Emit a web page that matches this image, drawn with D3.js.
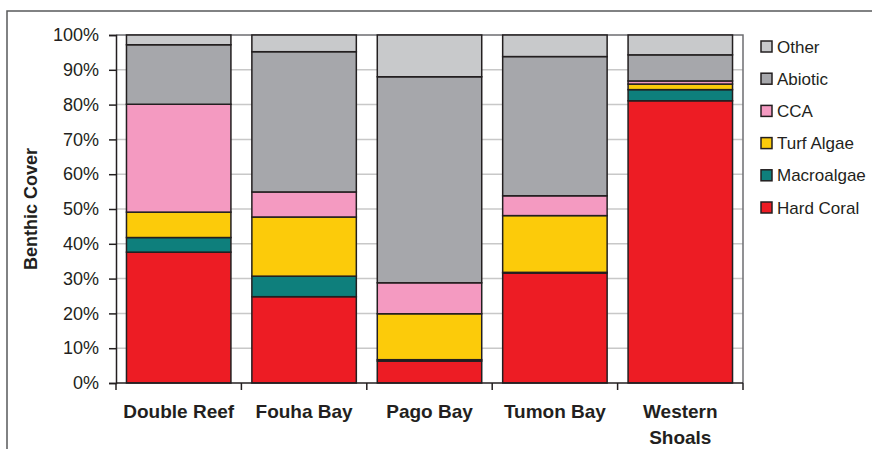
<!DOCTYPE html>
<html lang="en">
<head>
<meta charset="utf-8">
<title>Benthic Cover</title>
<script src="https://cdn.jsdelivr.net/npm/d3@7"></script>
<style>
  body { margin: 0; background: #fff; }
  text { font-family: Arial, "Liberation Sans", sans-serif; fill: #231f20; }
</style>
</head>
<body>
<script>
// sites along the x axis
var sites = ["Double Reef", "Fouha Bay", "Pago Bay", "Tumon Bay", "Western Shoals"];
// series, bottom to top of the stack (percent cover)
var seriesNames = ["Hard Coral", "Macroalgae", "Turf Algae", "CCA", "Abiotic", "Other"];
var hardCoral  = [37.6, 24.8, 6.3, 31.6, 81.1];
var macroalgae = [4.2, 5.9, 0.4, 0.2, 3.2];
var turfAlgae  = [7.3, 17.0, 13.2, 16.3, 1.6];
var cca        = [31.0, 7.2, 8.9, 5.7, 0.9];
var abiotic    = [17.1, 40.3, 59.2, 40.0, 7.5];
var other      = [2.8, 4.8, 12.0, 6.2, 5.7];
var yTicks = [0, 0.1, 0.2, 0.3, 0.4, 0.5, 0.6, 0.7, 0.8, 0.9, 1];

var colors = {
  "Hard Coral": "#ed1c24",
  "Macroalgae": "#0e7f7c",
  "Turf Algae": "#fccb0a",
  "CCA": "#f49ac1",
  "Abiotic": "#a6a7ab",
  "Other": "#c8c9cb"
};

var W = 872, H = 449;
var margin = {top: 35, left: 116, right: 129, bottom: 66};
var innerW = W - margin.left - margin.right,
    innerH = H - margin.top - margin.bottom;

// build rows for d3.stack
var seriesData = [hardCoral, macroalgae, turfAlgae, cca, abiotic, other];
var rows = sites.map(function(s, i) {
  var r = {site: s};
  seriesNames.forEach(function(n, j) { r[n] = seriesData[j][i] / 100; });
  return r;
});
var stacked = d3.stack().keys(seriesNames)(rows);

var svg = d3.select("body").append("svg")
  .attr("width", W).attr("height", H);

// outer frame
svg.append("rect")
  .attr("x", 7).attr("y", 11)
  .attr("width", W + 10).attr("height", H + 10)
  .attr("fill", "none").attr("stroke", "#58595b").attr("stroke-width", 1.5);

var g = svg.append("g").attr("transform", "translate(" + margin.left + "," + margin.top + ")");

var x = d3.scaleBand().domain(sites).range([0, innerW])
  .paddingInner(0.167).paddingOuter(0.0835);
var y = d3.scaleLinear().domain([0, 1]).range([innerH, 0]);

// gridlines
g.selectAll(".grid").data(yTicks.slice(1, -1)).enter().append("line")
  .attr("x1", 0).attr("x2", innerW)
  .attr("y1", function(d) { return y(d); }).attr("y2", function(d) { return y(d); })
  .attr("stroke", "#c8c8c8").attr("stroke-width", 1.5);

// plot frame (top + right)
g.append("path")
  .attr("d", "M0," + y(1) + "H" + innerW + "V" + y(0))
  .attr("fill", "none").attr("stroke", "#6d6e71").attr("stroke-width", 1.5);

// bars
g.selectAll(".layer").data(stacked).enter().append("g")
  .attr("fill", function(d) { return colors[d.key]; })
  .selectAll("rect").data(function(d) { return d; }).enter().append("rect")
  .attr("x", function(d) { return x(d.data.site); })
  .attr("width", x.bandwidth())
  .attr("y", function(d) { return y(d[1]); })
  .attr("height", function(d) { return y(d[0]) - y(d[1]); })
  .attr("stroke", "#231f20").attr("stroke-width", 1.5);

// y axis
var yAxis = g.append("g")
  .call(d3.axisLeft(y).tickValues(yTicks).tickFormat(d3.format(".0%")).tickSize(7).tickPadding(10));
yAxis.select(".domain").attr("stroke", "#231f20").attr("stroke-width", 1.5);
yAxis.selectAll(".tick line").attr("stroke", "#231f20").attr("stroke-width", 1.5);
yAxis.selectAll("text").attr("font-size", "18px").attr("fill", "#231f20")
  .style("font-family", "Arial, 'Liberation Sans', sans-serif");

// x axis baseline + ticks at category boundaries
g.append("line").attr("x1", 0).attr("x2", innerW)
  .attr("y1", innerH).attr("y2", innerH)
  .attr("stroke", "#231f20").attr("stroke-width", 1.5);
var gap = (x.step() - x.bandwidth()) / 2;
var bounds = sites.map(function(s) { return x(s) - gap; }).concat([innerW]);
g.selectAll(".xtick").data(bounds).enter().append("line")
  .attr("x1", function(d) { return d; }).attr("x2", function(d) { return d; })
  .attr("y1", innerH).attr("y2", innerH + 7)
  .attr("stroke", "#231f20").attr("stroke-width", 1.5);

// x labels (wrap "Western Shoals")
g.selectAll(".xlab").data(sites).enter().append("text")
  .attr("text-anchor", "middle")
  .attr("font-size", "19px").attr("font-weight", "bold")
  .each(function(s) {
    var words = s === "Western Shoals" ? ["Western", "Shoals"] : [s];
    var t = d3.select(this);
    words.forEach(function(w, i) {
      t.append("tspan")
        .attr("x", x(s) + x.bandwidth() / 2)
        .attr("y", innerH + 35 + i * 26)
        .text(w);
    });
  });

// y title
svg.append("text")
  .attr("transform", "translate(37," + (margin.top + innerH / 2) + ") rotate(-90)")
  .attr("text-anchor", "middle")
  .attr("font-size", "18px").attr("font-weight", "bold")
  .text("Benthic Cover");

// legend, top to bottom = reverse stack order
var legend = svg.append("g").attr("transform", "translate(761,41)");
var legItems = legend.selectAll("g").data(seriesNames.slice().reverse()).enter().append("g")
  .attr("transform", function(d, i) { return "translate(0," + (i * 32.2) + ")"; });
legItems.append("rect")
  .attr("width", 11).attr("height", 11)
  .attr("fill", function(d) { return colors[d]; })
  .attr("stroke", "#231f20").attr("stroke-width", 1.5);
legItems.append("text")
  .attr("x", 16).attr("y", 11.5)
  .attr("font-size", "17px")
  .text(function(d) { return d; });
</script>
</body>
</html>
